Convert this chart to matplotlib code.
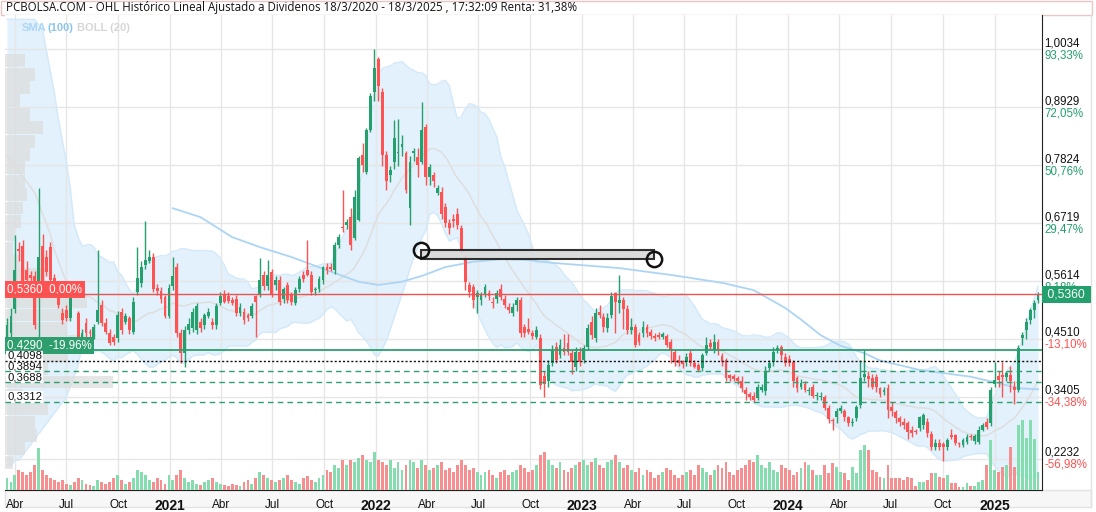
import matplotlib
matplotlib.use("Agg")
import matplotlib.pyplot as plt
import numpy as np
import pandas as pd
from matplotlib.patches import Rectangle
from matplotlib.transforms import blended_transform_factory as btf

plt.rcParams['font.family'] = ['Liberation Sans', 'DejaVu Sans']

# ------------------------------------------------------------------ data
start_date = "2020-03-18"

# weekly candles (open, high, low, close)
ohlc_2020 = [
    (0.455, 0.490, 0.440, 0.478), (0.462, 0.510, 0.455, 0.495), (0.509, 0.649, 0.500, 0.582),
    (0.622, 0.635, 0.600, 0.619), (0.628, 0.640, 0.550, 0.560), (0.582, 0.600, 0.555, 0.563),
    (0.573, 0.580, 0.560, 0.568), (0.570, 0.580, 0.470, 0.478), (0.554, 0.738, 0.455, 0.607),
    (0.628, 0.650, 0.540, 0.551), (0.608, 0.620, 0.570, 0.579), (0.627, 0.635, 0.555, 0.563),
    (0.567, 0.575, 0.545, 0.551), (0.535, 0.545, 0.510, 0.516), (0.501, 0.510, 0.480, 0.487),
    (0.506, 0.515, 0.485, 0.490), (0.490, 0.555, 0.485, 0.532), (0.548, 0.555, 0.530, 0.538),
    (0.500, 0.505, 0.450, 0.455), (0.452, 0.470, 0.445, 0.462), (0.481, 0.490, 0.455, 0.462),
    (0.465, 0.470, 0.455, 0.462), (0.455, 0.480, 0.450, 0.474), (0.484, 0.620, 0.480, 0.506),
    (0.516, 0.525, 0.475, 0.481), (0.481, 0.490, 0.460, 0.465), (0.462, 0.470, 0.440, 0.443),
    (0.455, 0.460, 0.440, 0.446), (0.452, 0.505, 0.445, 0.497), (0.503, 0.510, 0.460, 0.468),
    (0.484, 0.500, 0.480, 0.494), (0.490, 0.495, 0.460, 0.468), (0.465, 0.530, 0.460, 0.522),
    (0.541, 0.627, 0.535, 0.567), (0.557, 0.600, 0.550, 0.589), (0.592, 0.675, 0.585, 0.601),
    (0.600, 0.620, 0.595, 0.607), (0.607, 0.615, 0.540, 0.546), (0.548, 0.555, 0.535, 0.543),
    (0.543, 0.550, 0.520, 0.527), (0.530, 0.535, 0.490, 0.494), (0.494, 0.555, 0.490, 0.548),
]
ohlc_2021 = [
    (0.551, 0.608, 0.545, 0.571), (0.589, 0.595, 0.455, 0.462), (0.462, 0.470, 0.405, 0.424),
    (0.424, 0.475, 0.398, 0.468), (0.468, 0.490, 0.460, 0.480), (0.471, 0.510, 0.465, 0.503),
    (0.468, 0.520, 0.460, 0.513), (0.484, 0.490, 0.465, 0.471), (0.478, 0.500, 0.470, 0.497),
    (0.494, 0.510, 0.490, 0.503), (0.484, 0.490, 0.470, 0.478), (0.478, 0.520, 0.470, 0.513),
    (0.519, 0.540, 0.515, 0.532), (0.535, 0.545, 0.520, 0.522), (0.532, 0.540, 0.520, 0.524),
    (0.525, 0.530, 0.515, 0.520), (0.528, 0.535, 0.495, 0.500), (0.501, 0.520, 0.495, 0.511),
    (0.503, 0.510, 0.480, 0.487), (0.497, 0.500, 0.485, 0.490), (0.494, 0.520, 0.490, 0.513),
    (0.532, 0.535, 0.455, 0.522), (0.535, 0.605, 0.530, 0.563), (0.573, 0.580, 0.545, 0.551),
    (0.551, 0.601, 0.545, 0.573), (0.579, 0.585, 0.530, 0.535), (0.554, 0.570, 0.545, 0.563),
    (0.563, 0.570, 0.515, 0.522), (0.528, 0.550, 0.520, 0.547), (0.554, 0.560, 0.520, 0.525),
    (0.535, 0.540, 0.515, 0.522), (0.519, 0.550, 0.515, 0.544), (0.547, 0.570, 0.540, 0.566),
    (0.573, 0.580, 0.560, 0.566), (0.582, 0.640, 0.570, 0.573), (0.573, 0.580, 0.535, 0.541),
    (0.544, 0.550, 0.535, 0.547), (0.547, 0.570, 0.540, 0.566), (0.563, 0.590, 0.555, 0.588),
    (0.588, 0.595, 0.575, 0.582), (0.587, 0.595, 0.580, 0.585), (0.582, 0.635, 0.575, 0.630),
    (0.630, 0.650, 0.625, 0.646), (0.665, 0.735, 0.655, 0.662), (0.668, 0.680, 0.660, 0.674),
    (0.684, 0.700, 0.620, 0.630), (0.643, 0.735, 0.640, 0.722), (0.678, 0.800, 0.675, 0.795),
    (0.801, 0.825, 0.770, 0.782), (0.770, 0.852, 0.765, 0.849), (0.849, 0.920, 0.845, 0.913),
    (0.922, 1.003, 0.905, 0.967),
]
ohlc_2022 = [
    (0.984, 0.988, 0.905, 0.932), (0.922, 0.930, 0.780, 0.801), (0.801, 0.810, 0.735, 0.751),
    (0.763, 0.780, 0.750, 0.773), (0.789, 0.868, 0.775, 0.833), (0.805, 0.870, 0.780, 0.806),
    (0.816, 0.840, 0.800, 0.822), (0.805, 0.810, 0.730, 0.735), (0.700, 0.800, 0.668, 0.789),
    (0.805, 0.815, 0.790, 0.810), (0.798, 0.815, 0.760, 0.782), (0.789, 0.903, 0.785, 0.849),
    (0.855, 0.860, 0.745, 0.760), (0.760, 0.785, 0.745, 0.779), (0.763, 0.770, 0.740, 0.751),
    (0.730, 0.745, 0.725, 0.738), (0.731, 0.740, 0.680, 0.690), (0.703, 0.710, 0.665, 0.671),
    (0.671, 0.680, 0.650, 0.662), (0.680, 0.690, 0.665, 0.675), (0.690, 0.700, 0.660, 0.668),
    (0.662, 0.668, 0.615, 0.620), (0.608, 0.610, 0.545, 0.560), (0.554, 0.560, 0.530, 0.541),
    (0.550, 0.555, 0.510, 0.525), (0.531, 0.545, 0.500, 0.538), (0.525, 0.540, 0.515, 0.535),
    (0.535, 0.555, 0.530, 0.550), (0.538, 0.545, 0.525, 0.532), (0.522, 0.530, 0.510, 0.519),
    (0.528, 0.545, 0.520, 0.538), (0.547, 0.555, 0.525, 0.531), (0.528, 0.535, 0.510, 0.516),
    (0.512, 0.520, 0.500, 0.506), (0.500, 0.520, 0.495, 0.512), (0.516, 0.530, 0.505, 0.525),
    (0.525, 0.530, 0.455, 0.462), (0.474, 0.480, 0.455, 0.462), (0.470, 0.490, 0.460, 0.465),
    (0.462, 0.468, 0.450, 0.456), (0.455, 0.475, 0.450, 0.468), (0.452, 0.460, 0.355, 0.363),
    (0.380, 0.390, 0.341, 0.365), (0.370, 0.410, 0.360, 0.401), (0.405, 0.440, 0.400, 0.430),
    (0.436, 0.445, 0.405, 0.411), (0.420, 0.450, 0.415, 0.440), (0.433, 0.460, 0.420, 0.427),
    (0.443, 0.460, 0.420, 0.427), (0.424, 0.430, 0.385, 0.408), (0.398, 0.435, 0.390, 0.427),
    (0.427, 0.435, 0.400, 0.408),
]
ohlc_2023 = [
    (0.411, 0.440, 0.405, 0.433), (0.436, 0.480, 0.430, 0.471), (0.484, 0.495, 0.450, 0.459),
    (0.452, 0.510, 0.445, 0.500), (0.503, 0.515, 0.490, 0.497), (0.493, 0.500, 0.465, 0.474),
    (0.471, 0.500, 0.465, 0.490), (0.497, 0.540, 0.490, 0.532), (0.538, 0.540, 0.462, 0.522),
    (0.520, 0.573, 0.500, 0.525), (0.525, 0.530, 0.470, 0.509), (0.509, 0.515, 0.460, 0.468),
    (0.468, 0.490, 0.460, 0.474), (0.474, 0.480, 0.435, 0.440), (0.459, 0.465, 0.440, 0.446),
    (0.462, 0.485, 0.455, 0.474), (0.474, 0.480, 0.455, 0.462), (0.465, 0.470, 0.450, 0.456),
    (0.456, 0.462, 0.448, 0.452), (0.458, 0.465, 0.450, 0.455), (0.455, 0.465, 0.450, 0.460),
    (0.457, 0.460, 0.435, 0.440), (0.446, 0.450, 0.405, 0.430), (0.427, 0.430, 0.400, 0.408),
    (0.411, 0.420, 0.400, 0.405), (0.406, 0.410, 0.395, 0.404), (0.408, 0.425, 0.400, 0.417),
    (0.424, 0.430, 0.400, 0.405), (0.405, 0.410, 0.395, 0.398), (0.401, 0.405, 0.390, 0.392),
    (0.395, 0.425, 0.390, 0.420), (0.424, 0.455, 0.420, 0.440), (0.443, 0.450, 0.430, 0.436),
    (0.430, 0.460, 0.425, 0.446), (0.446, 0.450, 0.420, 0.430), (0.419, 0.425, 0.400, 0.408),
    (0.411, 0.415, 0.370, 0.376), (0.382, 0.385, 0.370, 0.376), (0.380, 0.385, 0.370, 0.375),
    (0.376, 0.380, 0.365, 0.370), (0.371, 0.380, 0.350, 0.357), (0.354, 0.360, 0.335, 0.347),
    (0.346, 0.350, 0.335, 0.341), (0.343, 0.350, 0.330, 0.335), (0.338, 0.365, 0.335, 0.360),
    (0.354, 0.365, 0.350, 0.360), (0.351, 0.400, 0.345, 0.389), (0.395, 0.410, 0.390, 0.405),
    (0.408, 0.435, 0.400, 0.427), (0.430, 0.440, 0.425, 0.433), (0.436, 0.440, 0.410, 0.420),
    (0.417, 0.425, 0.400, 0.405),
]
ohlc_2024 = [
    (0.412, 0.420, 0.400, 0.405), (0.408, 0.410, 0.360, 0.370), (0.376, 0.380, 0.350, 0.357),
    (0.359, 0.375, 0.355, 0.368), (0.366, 0.370, 0.350, 0.354), (0.351, 0.360, 0.345, 0.354),
    (0.359, 0.365, 0.338, 0.342), (0.342, 0.350, 0.335, 0.343), (0.340, 0.350, 0.335, 0.342),
    (0.340, 0.345, 0.315, 0.319), (0.320, 0.325, 0.290, 0.298), (0.297, 0.300, 0.278, 0.294),
    (0.303, 0.320, 0.290, 0.313), (0.313, 0.325, 0.310, 0.319), (0.313, 0.318, 0.295, 0.303),
    (0.302, 0.305, 0.285, 0.290), (0.290, 0.300, 0.285, 0.292), (0.300, 0.325, 0.295, 0.322),
    (0.325, 0.410, 0.320, 0.376), (0.379, 0.430, 0.370, 0.384), (0.380, 0.390, 0.360, 0.374),
    (0.376, 0.385, 0.355, 0.360), (0.378, 0.385, 0.350, 0.360), (0.357, 0.360, 0.340, 0.347),
    (0.349, 0.360, 0.345, 0.354), (0.357, 0.365, 0.300, 0.316), (0.322, 0.330, 0.305, 0.313),
    (0.311, 0.315, 0.290, 0.300), (0.300, 0.305, 0.285, 0.293), (0.293, 0.300, 0.280, 0.287),
    (0.290, 0.295, 0.260, 0.274), (0.278, 0.285, 0.265, 0.272), (0.275, 0.280, 0.270, 0.273),
    (0.281, 0.305, 0.275, 0.303), (0.287, 0.310, 0.280, 0.306), (0.293, 0.300, 0.265, 0.271),
    (0.270, 0.275, 0.240, 0.246), (0.246, 0.260, 0.240, 0.252), (0.252, 0.260, 0.240, 0.246),
    (0.250, 0.255, 0.218, 0.245), (0.246, 0.262, 0.240, 0.258), (0.268, 0.280, 0.260, 0.265),
    (0.268, 0.270, 0.248, 0.252), (0.251, 0.255, 0.245, 0.250), (0.249, 0.262, 0.245, 0.258),
    (0.255, 0.270, 0.250, 0.265), (0.266, 0.270, 0.258, 0.264), (0.256, 0.270, 0.250, 0.266),
    (0.255, 0.285, 0.250, 0.278), (0.278, 0.290, 0.275, 0.287), (0.293, 0.300, 0.280, 0.284),
    (0.290, 0.360, 0.285, 0.354),
]
ohlc_2025 = [
    (0.366, 0.408, 0.360, 0.373), (0.380, 0.390, 0.360, 0.373), (0.382, 0.408, 0.340, 0.379),
    (0.379, 0.390, 0.370, 0.386), (0.382, 0.400, 0.350, 0.370), (0.360, 0.370, 0.328, 0.354),
    (0.354, 0.440, 0.350, 0.433), (0.452, 0.465, 0.440, 0.459), (0.468, 0.490, 0.450, 0.484),
    (0.487, 0.510, 0.480, 0.506), (0.506, 0.525, 0.490, 0.519), (0.525, 0.540, 0.520, 0.536),
]

# weekly volume (millions of shares)
vol_2020 = [1.2, 0.8, 1.5, 2.0, 1.8, 1.5, 1.8, 2.5, 4.2, 2.0, 1.5, 1.2, 1.0, 0.8, 1.0, 0.6, 0.5,
            0.8, 1.2, 1.0, 0.6, 0.5, 0.4, 1.0, 0.8, 0.6, 0.8, 1.2, 1.5, 1.0, 0.6, 0.8, 1.2, 2.0,
            1.8, 1.5, 1.0, 0.8, 1.2, 1.0, 0.6, 1.5]
vol_2021 = [1.0, 1.5, 2.0, 1.2, 0.8, 1.0, 0.6, 0.5, 0.8, 1.0, 1.2, 0.8, 0.6, 0.5, 0.4, 0.6, 0.5,
            0.4, 0.8, 1.0, 0.6, 1.2, 1.8, 1.5, 1.2, 1.0, 0.8, 1.0, 1.2, 1.5, 1.0, 0.8, 0.6, 1.2,
            1.4, 1.0, 0.8, 1.2, 1.5, 2.0, 1.8, 2.5, 2.2, 3.0, 2.5, 3.0, 2.8, 3.2, 3.5, 3.0, 2.8, 3.8]
vol_2022 = [3.0, 2.8, 2.5, 3.0, 2.2, 2.8, 2.0, 2.5, 3.0, 2.8, 2.2, 3.0, 2.5, 2.0, 2.2, 2.5, 2.8,
            2.0, 2.2, 1.8, 2.5, 3.0, 2.5, 2.0, 2.2, 1.8, 1.5, 1.8, 2.0, 1.5, 1.2, 1.8, 2.0, 1.5,
            1.8, 2.0, 2.5, 2.2, 1.8, 2.0, 2.5, 3.5, 3.8, 3.0, 2.5, 2.2, 2.8, 2.0, 1.8, 2.2, 2.5, 2.8]
vol_2023 = [3.0, 2.5, 2.8, 3.2, 2.5, 2.2, 2.8, 3.0, 3.5, 2.8, 2.2, 2.5, 2.0, 1.8, 2.2, 1.5, 2.0,
            1.8, 1.2, 1.5, 1.8, 2.2, 2.0, 1.5, 1.2, 1.5, 1.8, 2.0, 1.5, 2.5, 2.2, 1.8, 1.5, 2.0,
            2.5, 2.2, 2.8, 1.8, 1.5, 2.0, 2.2, 2.5, 3.0, 2.8, 3.5, 2.5, 2.2, 2.8, 2.0, 1.8, 2.5, 2.2]
vol_2024 = [2.0, 1.5, 1.8, 2.2, 2.8, 2.5, 2.0, 1.5, 1.5, 2.5, 1.7, 2.7, 2.3, 1.8, 1.7, 1.0, 2.3,
            1.7, 4.0, 4.5, 4.0, 2.0, 1.8, 1.3, 1.2, 2.5, 1.2, 1.2, 1.2, 1.0, 1.3, 1.2, 0.4, 0.8,
            0.8, 1.0, 1.7, 1.7, 1.3, 1.2, 1.5, 0.7, 0.7, 0.3, 0.3, 0.7, 0.4, 0.4, 0.8, 1.0, 2.5, 5.0]
vol_2025 = [2.0, 1.8, 2.3, 2.5, 4.3, 2.3, 6.5, 7.0, 5.2, 7.0, 5.1, 1.8]

# y axis ticks and their return labels
price_ticks = [1.0034, 0.8929, 0.7824, 0.6719, 0.5614, 0.4510, 0.3405, 0.2232]
pct_labels = ['93,33%', '72,05%', '50,76%', '29,47%', '8,18%', '-13,10%', '-34,38%', '-56,98%']

# x axis ticks
tick_dates = ['2020-04-01', '2020-07-01', '2020-10-01', '2021-01-01', '2021-04-01', '2021-07-01',
              '2021-10-01', '2022-01-01', '2022-04-01', '2022-07-01', '2022-10-01', '2023-01-01',
              '2023-04-01', '2023-07-01', '2023-10-01', '2024-01-01', '2024-04-01', '2024-07-01',
              '2024-10-01', '2025-01-01']
tick_labels = ['Abr', 'Jul', 'Oct', '2021', 'Abr', 'Jul', 'Oct', '2022', 'Abr', 'Jul', 'Oct', '2023',
               'Abr', 'Jul', 'Oct', '2024', 'Abr', 'Jul', 'Oct', '2025']

# SMA(100) as drawn (week number since start, value)
sma_week = [42, 49, 57, 64, 72, 81, 89, 94, 100, 105, 111, 118, 125, 131, 138, 155, 168, 181,
            189, 197, 201, 206, 211, 217, 221, 231, 244, 253, 256, 261]
sma_val = [0.700, 0.683, 0.645, 0.626, 0.607, 0.582, 0.560, 0.554, 0.560, 0.571, 0.588, 0.598,
           0.603, 0.602, 0.596, 0.586, 0.573, 0.558, 0.544, 0.510, 0.488, 0.458, 0.438, 0.424,
           0.410, 0.392, 0.379, 0.363, 0.357, 0.355]

# Bollinger(20) for the first 19 weeks (window reaches before the chart)
boll_head_upper = [1.06, 1.06, 1.06, 1.06, 1.06, 1.06, 1.06, 1.06, 1.05, 1.04, 1.00, 0.96, 0.92,
                   0.87, 0.83, 0.79, 0.74, 0.67, 0.645]
boll_head_mid = [0.80, 0.79, 0.78, 0.77, 0.76, 0.75, 0.74, 0.73, 0.71, 0.69, 0.67, 0.65, 0.62,
                 0.60, 0.58, 0.56, 0.55, 0.54, 0.535]
boll_head_lower = [0.21, 0.21, 0.22, 0.22, 0.23, 0.24, 0.25, 0.26, 0.27, 0.28, 0.29, 0.30, 0.31,
                   0.32, 0.33, 0.34, 0.36, 0.38, 0.40]

# volume at price profile (left)
vp_prices = [0.216, 0.2415, 0.267, 0.2925, 0.318, 0.3435, 0.369, 0.3945, 0.420, 0.4455, 0.471,
             0.4965, 0.522, 0.5475, 0.573, 0.5985, 0.624, 0.6495, 0.675, 0.7005, 0.726, 0.7515,
             0.777, 0.8025, 0.828, 0.8535, 0.879, 0.9045, 0.930, 0.9555, 0.981]
vp_vols = [0.8, 2.0, 3.2, 3.0, 4.3, 1.8, 10.8, 4.3, 6.3, 8.0, 6.2, 6.6, 8.2, 5.0, 4.0, 1.5, 0.8,
           1.0, 1.6, 1.8, 2.2, 2.0, 2.0, 2.5, 3.0, 3.8, 2.5, 1.5, 2.5, 3.0, 2.0]

last_price = 0.5360
ref_price, ref_label = 0.4290, '-19,96%'
levels = [0.4098, 0.3894, 0.3688, 0.3312]
level_styles = ['dotted', 'dashed', 'dashed', 'dashed']

channel_dates = ['2022-03-21', '2023-05-08']
channel_prices = [0.620, 0.604]

title = ("PCBOLSA.COM - OHL Histórico Lineal Ajustado a Dividenos 18/3/2020 - 18/3/2025 , "
         "17:32:09 Renta: 31,38%")

# ------------------------------------------------------------------ prep
ohlc = np.array(ohlc_2020 + ohlc_2021 + ohlc_2022 + ohlc_2023 + ohlc_2024 + ohlc_2025)
o, h, l, c = ohlc.T
vol = np.array(vol_2020 + vol_2021 + vol_2022 + vol_2023 + vol_2024 + vol_2025)
n = len(c)
x = np.arange(n)
t0 = pd.Timestamp(start_date)


def week_of(d):
    return (pd.Timestamp(d) - t0).days / 7.0


cs = pd.Series(c)
mid = cs.rolling(20).mean().to_numpy()
sd = cs.rolling(20).std(ddof=0).to_numpy()
upper = mid + 2 * sd
lower = mid - 2 * sd
k = len(boll_head_mid)
mid[:k] = boll_head_mid
upper[:k] = boll_head_upper
lower[:k] = boll_head_lower

GREEN = '#23a06e'
RED = '#ff5252'
VGREEN = '#7fdcab'
VRED = '#f68a8a'

# ------------------------------------------------------------------ figure
W, H = 1096, 512
fig = plt.figure(figsize=(W / 100, H / 100), dpi=100)
L, R, T, B = 5, 1042, 15, 490
rect = [L / W, (H - B) / H, (R - L) / W, (B - T) / H]
YMIN, YMAX = 0.1632, 1.0682
XMIN, XMAX = -0.5, 262.0

# frame pieces in figure pixels
fig.patches.append(Rectangle((L / W, (H - 507) / H), (1091 - L) / W, 17 / H,
                             transform=fig.transFigure, fc='#f7f7f7', ec='#e2e2e2', lw=1, zorder=0))
fig.patches.append(Rectangle((1 / W, (H - 15) / H), 1091 / W, 14 / H,
                             transform=fig.transFigure, fc='white', ec='#e9c6c6', lw=1, zorder=0))
fig.lines.append(plt.Line2D([1091 / W, 1091 / W], [(H - 507) / H, (H - 15) / H],
                            transform=fig.transFigure, color='#e2e2e2', lw=1))
fig.text(6 / W, (H - 8) / H, title, fontsize=8.3, color='#111', va='center', ha='left',
         family=['Open Sans', 'DejaVu Sans'])

ax_bg = fig.add_axes(rect, zorder=1)
ax_vp = fig.add_axes(rect, zorder=2, sharey=ax_bg)
ax_vol = fig.add_axes(rect, zorder=3, sharex=ax_bg)
ax = fig.add_axes(rect, zorder=4, sharex=ax_bg, sharey=ax_bg)

ax_bg.set_xlim(XMIN, XMAX)
ax_bg.set_ylim(YMIN, YMAX)

# background: grid + bollinger fill
tick_pos = [week_of(d) for d in tick_dates]
ax_bg.set_xticks(tick_pos)
ax_bg.set_yticks(price_ticks)
ax_bg.grid(True, color='#e6e6e6', lw=1)
ax_bg.tick_params(length=0, labelleft=False, labelbottom=False)
for s in ['top', 'left']:
    ax_bg.spines[s].set_visible(False)
ax_bg.spines['right'].set_color('#222')
ax_bg.spines['bottom'].set_color('#222')
ax_bg.fill_between(x, lower, upper, color='#e2f1fc', lw=0, zorder=1)
ax_bg.plot(x, upper, color='#d3e9f9', lw=1, zorder=2)
ax_bg.plot(x, lower, color='#d3e9f9', lw=1, zorder=2)

# volume-at-price profile
ax_vp.barh(vp_prices, vp_vols, height=0.0245, color='#dcdcdc', alpha=0.7, lw=0)
ax_vp.set_xlim(0, max(vp_vols) / 0.104)
ax_vp.axis('off')
ax_vp.patch.set_visible(False)

# volume bars
vcol = np.where(c >= o, VGREEN, VRED)
ax_vol.bar(x, vol, width=0.72, color=vcol, lw=0, alpha=0.95)
ax_vol.set_ylim(0, 47.5)
ax_vol.axis('off')
ax_vol.patch.set_visible(False)

# main layer
ax.patch.set_visible(False)
ax.axis('off')
ax.plot(x, mid, color='#dedede', lw=1.1, zorder=2)
ax.plot(sma_week, sma_val, color='#acd5f5', lw=1.3, zorder=3)

col = np.where(c >= o, GREEN, RED)
ax.vlines(x, l, h, colors=col, lw=1, zorder=5)
body = np.maximum(np.abs(c - o), 0.0025)
ax.bar(x, body, bottom=np.minimum(o, c), width=0.72, color=col, lw=0, zorder=6)

# horizontal reference lines (drawn above the small label boxes)
ax.axhline(last_price, color='#ef5350', lw=1, zorder=9.5)
ax.axhline(ref_price, color='#2e9e6e', lw=1.3, zorder=9.5)
for lv, st in zip(levels, level_styles):
    if st == 'dotted':
        ax.axhline(lv, color='#111', lw=1, ls=(0, (1.5, 1.5)), zorder=9.5)
    else:
        ax.axhline(lv, color='#2e9e6e', lw=1, ls=(0, (4, 3)), zorder=9.5)

# drawn channel
cx0, cx1 = week_of(channel_dates[0]), week_of(channel_dates[1])
ax.add_patch(Rectangle((cx0, channel_prices[1]), cx1 - cx0, channel_prices[0] - channel_prices[1],
                       fc='#d8d8d8', ec='#1a1a1a', lw=1.5, alpha=0.9, zorder=7))
ax.plot([cx0], [channel_prices[0]], marker='o', ms=11, mfc='none', mec='#111', mew=1.8, zorder=8)
ax.plot([cx1], [channel_prices[1]], marker='o', ms=11, mfc='none', mec='#111', mew=1.8, zorder=8)

trL = btf(ax.transAxes, ax.transData)
# left labels
ax.text(0.002, last_price + 0.004, "0,5360  0,00%", transform=trL, ha='left', va='baseline',
        color='white', fontsize=8.3, zorder=9,
        bbox=dict(boxstyle='square,pad=0.22', fc=RED, ec='none'))
ax.text(0.002, ref_price + 0.004, "0,4290  " + ref_label, transform=trL, ha='left', va='baseline',
        color='white', fontsize=8.3, zorder=9,
        bbox=dict(boxstyle='square,pad=0.22', fc='#2e9e6e', ec='none'))
for lv in levels:
    ax.text(0.002, lv + 0.0035, f"{lv:.4f}".replace('.', ','), transform=trL, ha='left',
            va='baseline', color='#111', fontsize=8.2, zorder=9,
            bbox=dict(boxstyle='square,pad=0.08', fc='white', ec='none'))

# right price labels
for p, pl in zip(price_ticks, pct_labels):
    ax.text(1.002, p, f"{p:.4f}".replace('.', ','), transform=trL, ha='left', va='bottom',
            fontsize=8.3, color='#111', clip_on=False)
    ax.text(1.002, p, pl, transform=trL, ha='left', va='top', fontsize=8.3,
            color=RED if pl.startswith('-') else GREEN, clip_on=False)
ax.text(1.002, last_price, " 0,5360 ", transform=trL, ha='left', va='center', fontsize=8.8,
        color='white', clip_on=False, zorder=10,
        bbox=dict(boxstyle='square,pad=0.2', fc=GREEN, ec='none'))

# legend
fig.text(22 / W, (H - 28) / H, "SMA", color='#acd6f6', fontsize=8, fontweight='bold', va='center')
fig.text(47 / W, (H - 28) / H, "(100)", color='#8cc5ef', fontsize=8, fontweight='bold', va='center')
fig.text(77 / W, (H - 28) / H, "BOLL (20)", color='#d6d6d6', fontsize=8, fontweight='bold',
         va='center')

# x tick labels
trX = btf(ax.transData, ax.transAxes)
for pos, lab in zip(tick_pos, tick_labels):
    is_year = lab.isdigit()
    ax.text(pos, -0.018, lab, transform=trX, ha='center', va='top', clip_on=False,
            fontsize=10 if is_year else 8.5, fontweight='bold' if is_year else 'normal',
            color='#111')

fig.savefig('out.png', dpi=100)
